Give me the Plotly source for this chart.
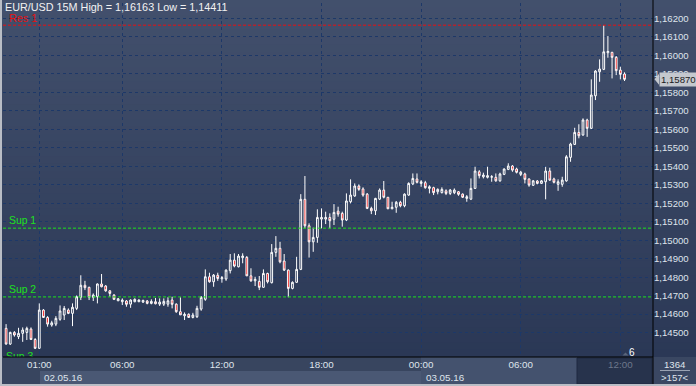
import plotly.graph_objects as go
import pandas as pd

# ---------------- data ----------------
times = pd.date_range("2016-05-01 23:00", periods=150, freq="15min")

open_ = [1.14523,1.14438,1.14501,1.14478,1.14496,1.14501,1.14519,1.14463,1.14415,1.14622,
         1.14582,1.14541,1.14546,1.14572,1.14595,1.14622,1.14604,1.14631,1.14691,1.14756,
         1.14745,1.14691,1.14694,1.14763,1.14752,1.14726,1.14703,1.14672,1.14667,1.14671,
         1.14654,1.14667,1.14667,1.14665,1.14671,1.14658,1.14667,1.14654,1.14654,1.14654,
         1.14676,1.14654,1.14613,1.14591,1.14599,1.14582,1.14586,1.14627,1.14680,1.14802,
         1.14775,1.14810,1.14791,1.14790,1.14835,1.14892,1.14856,1.14905,1.14907,1.14807,
         1.14780,1.14777,1.14745,1.14820,1.14770,1.14934,1.14956,1.14887,1.14838,1.14739,
         1.14772,1.14842,1.15221,1.15078,1.14991,1.15015,1.15114,1.15114,1.15123,1.15113,
         1.15157,1.15145,1.15109,1.15208,1.15239,1.15293,1.15277,1.15249,1.15172,1.15159,
         1.15222,1.15271,1.15232,1.15170,1.15178,1.15205,1.15186,1.15244,1.15304,1.15331,
         1.15307,1.15311,1.15280,1.15284,1.15262,1.15257,1.15267,1.15253,1.15257,1.15262,
         1.15249,1.15226,1.15222,1.15280,1.15370,1.15343,1.15340,1.15341,1.15340,1.15321,
         1.15356,1.15383,1.15401,1.15385,1.15356,1.15358,1.15331,1.15297,1.15320,1.15307,
         1.15316,1.15374,1.15331,1.15302,1.15302,1.15321,1.15448,1.15518,1.15583,1.15569,
         1.15650,1.15605,1.15781,1.15911,1.15924,1.16014,1.16016,1.15989,1.15920,1.15899]

high = [1.14546,1.14505,1.14508,1.14526,1.14528,1.14532,1.14528,1.14470,1.14658,1.14627,
        1.14589,1.14564,1.14589,1.14647,1.14644,1.14631,1.14658,1.14701,1.14810,1.14780,
        1.14748,1.14712,1.14766,1.14817,1.14757,1.14730,1.14708,1.14687,1.14685,1.14676,
        1.14680,1.14685,1.14680,1.14678,1.14676,1.14680,1.14687,1.14685,1.14685,1.14691,
        1.14694,1.14658,1.14691,1.14609,1.14604,1.14607,1.14645,1.14698,1.14842,1.14824,
        1.14817,1.14824,1.14806,1.14842,1.14925,1.14929,1.14925,1.14929,1.14914,1.14848,
        1.14802,1.14806,1.14842,1.14824,1.14979,1.15022,1.14991,1.14925,1.14842,1.14777,
        1.14910,1.15249,1.15347,1.15091,1.15068,1.15167,1.15172,1.15154,1.15145,1.15195,
        1.15181,1.15154,1.15253,1.15329,1.15307,1.15302,1.15286,1.15255,1.15181,1.15229,
        1.15280,1.15320,1.15233,1.15208,1.15212,1.15213,1.15253,1.15313,1.15361,1.15361,
        1.15325,1.15321,1.15297,1.15289,1.15280,1.15286,1.15275,1.15277,1.15280,1.15266,
        1.15253,1.15244,1.15334,1.15397,1.15379,1.15365,1.15397,1.15352,1.15361,1.15365,
        1.15388,1.15416,1.15406,1.15392,1.15375,1.15365,1.15334,1.15325,1.15325,1.15325,
        1.15397,1.15392,1.15338,1.15329,1.15343,1.15460,1.15527,1.15608,1.15627,1.15659,
        1.15657,1.15870,1.15920,1.15978,1.16163,1.16104,1.16019,1.15996,1.15938,1.15908]

low = [1.14435,1.14433,1.14478,1.14465,1.14450,1.14460,1.14460,1.14411,1.14413,1.14579,
       1.14532,1.14532,1.14535,1.14564,1.14568,1.14600,1.14535,1.14622,1.14676,1.14730,
       1.14676,1.14671,1.14658,1.14745,1.14721,1.14694,1.14676,1.14671,1.14649,1.14640,
       1.14634,1.14664,1.14665,1.14660,1.14653,1.14653,1.14653,1.14644,1.14644,1.14640,
       1.14631,1.14607,1.14595,1.14568,1.14579,1.14577,1.14579,1.14618,1.14672,1.14770,
       1.14748,1.14780,1.14770,1.14780,1.14820,1.14853,1.14853,1.14875,1.14806,1.14775,
       1.14752,1.14730,1.14743,1.14766,1.14766,1.14910,1.14875,1.14833,1.14691,1.14734,
       1.14770,1.14838,1.15064,1.14906,1.14937,1.14986,1.15064,1.15087,1.15064,1.15082,
       1.15127,1.15073,1.15103,1.15199,1.15235,1.15267,1.15235,1.15168,1.15141,1.15136,
       1.15217,1.15226,1.15168,1.15167,1.15148,1.15178,1.15178,1.15240,1.15298,1.15307,
       1.15289,1.15278,1.15253,1.15244,1.15248,1.15253,1.15244,1.15244,1.15249,1.15240,
       1.15228,1.15208,1.15217,1.15277,1.15334,1.15334,1.15334,1.15316,1.15316,1.15316,
       1.15352,1.15379,1.15370,1.15361,1.15347,1.15307,1.15289,1.15293,1.15302,1.15304,
       1.15221,1.15320,1.15307,1.15267,1.15289,1.15316,1.15424,1.15515,1.15551,1.15565,
       1.15559,1.15601,1.15758,1.15857,1.15920,1.15987,1.15875,1.15893,1.15870,1.15861]

close = [1.14438,1.14501,1.14487,1.14496,1.14514,1.14523,1.14463,1.14415,1.14622,1.14582,
         1.14546,1.14553,1.14577,1.14617,1.14631,1.14604,1.14637,1.14694,1.14756,1.14743,
         1.14691,1.14703,1.14763,1.14748,1.14726,1.14712,1.14680,1.14683,1.14676,1.14653,
         1.14676,1.14680,1.14676,1.14674,1.14658,1.14669,1.14656,1.14665,1.14669,1.14672,
         1.14653,1.14613,1.14596,1.14599,1.14582,1.14595,1.14631,1.14691,1.14802,1.14775,
         1.14811,1.14793,1.14797,1.14838,1.14892,1.14860,1.14914,1.14914,1.14807,1.14780,
         1.14788,1.14745,1.14820,1.14775,1.14934,1.14956,1.14883,1.14838,1.14739,1.14772,
         1.14842,1.15221,1.15078,1.14991,1.15015,1.15123,1.15123,1.15123,1.15105,1.15150,
         1.15141,1.15109,1.15212,1.15244,1.15293,1.15275,1.15244,1.15172,1.15159,1.15226,
         1.15271,1.15232,1.15170,1.15178,1.15205,1.15186,1.15249,1.15307,1.15334,1.15313,
         1.15316,1.15284,1.15289,1.15257,1.15275,1.15275,1.15253,1.15271,1.15271,1.15248,
         1.15232,1.15235,1.15280,1.15374,1.15349,1.15352,1.15349,1.15343,1.15321,1.15358,
         1.15385,1.15401,1.15379,1.15367,1.15368,1.15329,1.15298,1.15321,1.15307,1.15321,
         1.15374,1.15325,1.15313,1.15316,1.15325,1.15451,1.15520,1.15583,1.15565,1.15650,
         1.15605,1.15785,1.15915,1.15926,1.16019,1.16021,1.15989,1.15917,1.15897,1.15870]

level_names = ["Res 1", "Sup 1", "Sup 2", "Sup 3"]
level_values = [1.16163, 1.15065, 1.14693, 1.14325]
level_colors = ["#e81010", "#1ee01e", "#1ee01e", "#1ee01e"]

price_ticks = [1.145, 1.146, 1.147, 1.148, 1.149, 1.150, 1.151, 1.152, 1.153,
               1.154, 1.155, 1.156, 1.157, 1.158, 1.159, 1.160, 1.161, 1.162]
price_labels = ["1,14500", "1,14600", "1,14700", "1,14800", "1,14900", "1,15000",
                "1,15100", "1,15200", "1,15300", "1,15400", "1,15500", "1,15600",
                "1,15700", "1,15800", "1,15900", "1,16000", "1,16100", "1,16200"]

time_ticks = ["2016-05-02 01:00", "2016-05-02 06:00", "2016-05-02 12:00", "2016-05-02 18:00",
              "2016-05-03 00:00", "2016-05-03 06:00", "2016-05-03 12:00"]
time_labels = ["01:00", "06:00", "12:00", "18:00", "00:00", "06:00",
               "<span style='color:#6d788b'>12:00</span>"]
date_labels = ["02.05.16", "03.05.16"]

title_text = "EUR/USD 15M High = 1,16163 Low = 1,14411"
last_price = 1.15870
last_price_label = "1,15870"

# ---------------- layout geometry ----------------
W, H = 696, 386
ML, MR, MT, MB = 3, 43, 3, 29
PW, PH = W - ML - MR, H - MT - MB


def px(xp):
    return (xp - ML) / PW


def py(yp):
    return (H - MB - yp) / PH


FONT = "Liberation Sans, Arial, sans-serif"
LBL = "#dfe4ec"

fig = go.Figure()

fig.add_trace(go.Candlestick(
    x=times, open=open_, high=high, low=low, close=close,
    increasing=dict(line=dict(color="#ffffff", width=1), fillcolor="rgba(0,0,0,0)"),
    decreasing=dict(line=dict(color="#ffffff", width=1), fillcolor="#f00000"),
    whiskerwidth=0, hoverinfo="skip", showlegend=False,
))

shapes = []
# background gradient (plot + right price axis)
top_c = (0x42, 0x50, 0x6c)
bot_c = (0x2b, 0x38, 0x56)
n = 48
y_bot, y_top = 0.0, py(0)
for k in range(n):
    t = k / (n - 1)
    c = tuple(round(bot_c[j] + (top_c[j] - bot_c[j]) * t) for j in range(3))
    shapes.append(dict(type="rect", xref="paper", yref="paper",
                       x0=px(0), x1=px(W), y0=y_bot + (y_top - y_bot) * k / n,
                       y1=y_bot + (y_top - y_bot) * (k + 1) / n + 0.002,
                       fillcolor="rgb(%d,%d,%d)" % c, line=dict(width=0), layer="below"))

# bottom time axis area
shapes.append(dict(type="rect", xref="paper", yref="paper", x0=px(0), x1=px(653),
                   y0=py(384), y1=py(357), fillcolor="#38455f", line=dict(width=0), layer="below"))
shapes.append(dict(type="rect", xref="paper", yref="paper", x0=px(40), x1=px(421),
                   y0=py(384), y1=py(371), fillcolor="#4a5874", line=dict(width=0), layer="below"))
shapes.append(dict(type="rect", xref="paper", yref="paper", x0=px(421), x1=px(577),
                   y0=py(384), y1=py(357), fillcolor="#44526e", line=dict(width=0), layer="below"))
shapes.append(dict(type="rect", xref="paper", yref="paper", x0=px(577), x1=px(652),
                   y0=py(384), y1=py(358), fillcolor="#27334c",
                   line=dict(width=1, color="#1e2940"), layer="below"))
# bottom-right box
shapes.append(dict(type="rect", xref="paper", yref="paper", x0=px(653), x1=px(W),
                   y0=py(384), y1=py(357), fillcolor="#3a4762", line=dict(width=0), layer="below"))
shapes.append(dict(type="line", xref="paper", yref="paper", x0=px(660), x1=px(690),
                   y0=py(370.5), y1=py(370.5), line=dict(color="#9aa3b3", width=1)))
# frame
shapes.append(dict(type="rect", xref="paper", yref="paper", x0=px(0), x1=px(2),
                   y0=py(H), y1=py(0), fillcolor="#b9bdc5", line=dict(width=0)))
shapes.append(dict(type="rect", xref="paper", yref="paper", x0=px(0), x1=px(W),
                   y0=py(H), y1=py(384), fillcolor="#b9bdc5", line=dict(width=0)))
shapes.append(dict(type="line", xref="paper", yref="paper", x0=0, x1=1, y0=0, y1=0,
                   line=dict(color="#000000", width=1)))
shapes.append(dict(type="line", xref="paper", yref="paper", x0=1, x1=1, y0=py(384), y1=py(0),
                   line=dict(color="#000000", width=1)))

# support / resistance lines
for v, c in zip(level_values, level_colors):
    shapes.append(dict(type="line", xref="paper", yref="y", x0=0, x1=1, y0=v, y1=v,
                       line=dict(color=c, width=1, dash="3px,2px")))

# price tag arrow
tag_y = py(79.3)
shapes.append(dict(type="path", xref="paper", yref="paper",
                   path="M %f,%f L %f,%f L %f,%f Z" % (px(654.5), tag_y, px(659), tag_y + 5.5 / PH,
                                                      px(659), tag_y - 5.5 / PH),
                   fillcolor="#c4c8ce", line=dict(width=0)))
# small marker near countdown
shapes.append(dict(type="path", xref="paper", yref="paper",
                   path="M %f,%f L %f,%f L %f,%f Z" % (px(622.5), py(355.5), px(628.5), py(355.5),
                                                      px(625.5), py(352.5)),
                   fillcolor="#59647a", line=dict(width=0)))

annotations = []
annotations.append(dict(text=title_text, xref="paper", yref="paper", x=px(3), y=py(6.5),
                        xanchor="left", yanchor="middle", showarrow=False,
                        font=dict(family=FONT, size=10.8, color="#f2f2f2")))
label_y = [18, 220.5, 289.3]
label_sizes = [10.8, 10.4, 10.4]
for name, c, yy, fs in zip(level_names[:3], level_colors[:3], label_y, label_sizes):
    annotations.append(dict(text=name, xref="paper", yref="paper", x=px(7), y=py(yy),
                            xanchor="left", yanchor="middle", showarrow=False,
                            font=dict(family=FONT, size=fs, color=c)))
for d, xx in zip(date_labels, [42, 424]):
    annotations.append(dict(text=d, xref="paper", yref="paper", x=px(xx), y=py(377.5),
                            xanchor="left", yanchor="middle", showarrow=False,
                            font=dict(family=FONT, size=9.8, color=LBL)))
annotations.append(dict(text=last_price_label, xref="paper", yref="paper", x=px(658.5), y=tag_y,
                        xanchor="left", yanchor="middle", showarrow=False,
                        bgcolor="#c4c8ce", borderpad=1,
                        font=dict(family=FONT, size=9.6, color="#1b1b1b")))
annotations.append(dict(text="6", xref="paper", yref="paper", x=px(632), y=py(352.5),
                        xanchor="center", yanchor="middle", showarrow=False,
                        font=dict(family=FONT, size=10, color="#ffffff")))
annotations.append(dict(text="1364", xref="paper", yref="paper", x=px(674.5), y=py(364),
                        xanchor="center", yanchor="middle", showarrow=False,
                        font=dict(family=FONT, size=9.6, color=LBL)))
annotations.append(dict(text="&gt;157&lt;", xref="paper", yref="paper", x=px(674.5), y=py(377.5),
                        xanchor="center", yanchor="middle", showarrow=False,
                        font=dict(family=FONT, size=9.6, color=LBL)))

# Sup 3 label, clipped by the plot area
fig.add_trace(go.Scatter(x=["2016-05-01 23:00"], y=[1.14368], mode="text",
                         text=[level_names[3]], textposition="middle right",
                         textfont=dict(family=FONT, size=10.4, color=level_colors[3]),
                         cliponaxis=True, hoverinfo="skip", showlegend=False))

fig.update_layout(
    width=W, height=H,
    margin=dict(l=ML, r=MR, t=MT, b=MB, pad=0),
    paper_bgcolor="#2f3c58",
    plot_bgcolor="rgba(0,0,0,0)",
    boxgap=0.4,
    showlegend=False,
    hovermode=False,
    shapes=shapes,
    annotations=annotations,
    xaxis=dict(
        type="date",
        range=["2016-05-01 22:48:50", "2016-05-03 13:58:00"],
        rangeslider=dict(visible=False),
        showgrid=True, gridcolor="#1d3868", gridwidth=1, griddash="3px,3px",
        tickvals=time_ticks, ticktext=time_labels,
        tickfont=dict(family=FONT, size=9.8, color=LBL),
        ticks="", showline=False, zeroline=False, fixedrange=True,
    ),
    yaxis=dict(
        side="right",
        range=[1.14368, 1.16283],
        showgrid=True, gridcolor="#1d3868", gridwidth=1, griddash="3px,3px",
        tickvals=price_ticks, ticktext=price_labels,
        tickfont=dict(family=FONT, size=9.6, color=LBL),
        ticks="", showline=False, zeroline=False, fixedrange=True,
    ),
)

fig.write_html("out.html", config={"displayModeBar": False, "staticPlot": True},
               post_script="document.body.style.margin='0px';document.body.style.overflow='hidden';")
